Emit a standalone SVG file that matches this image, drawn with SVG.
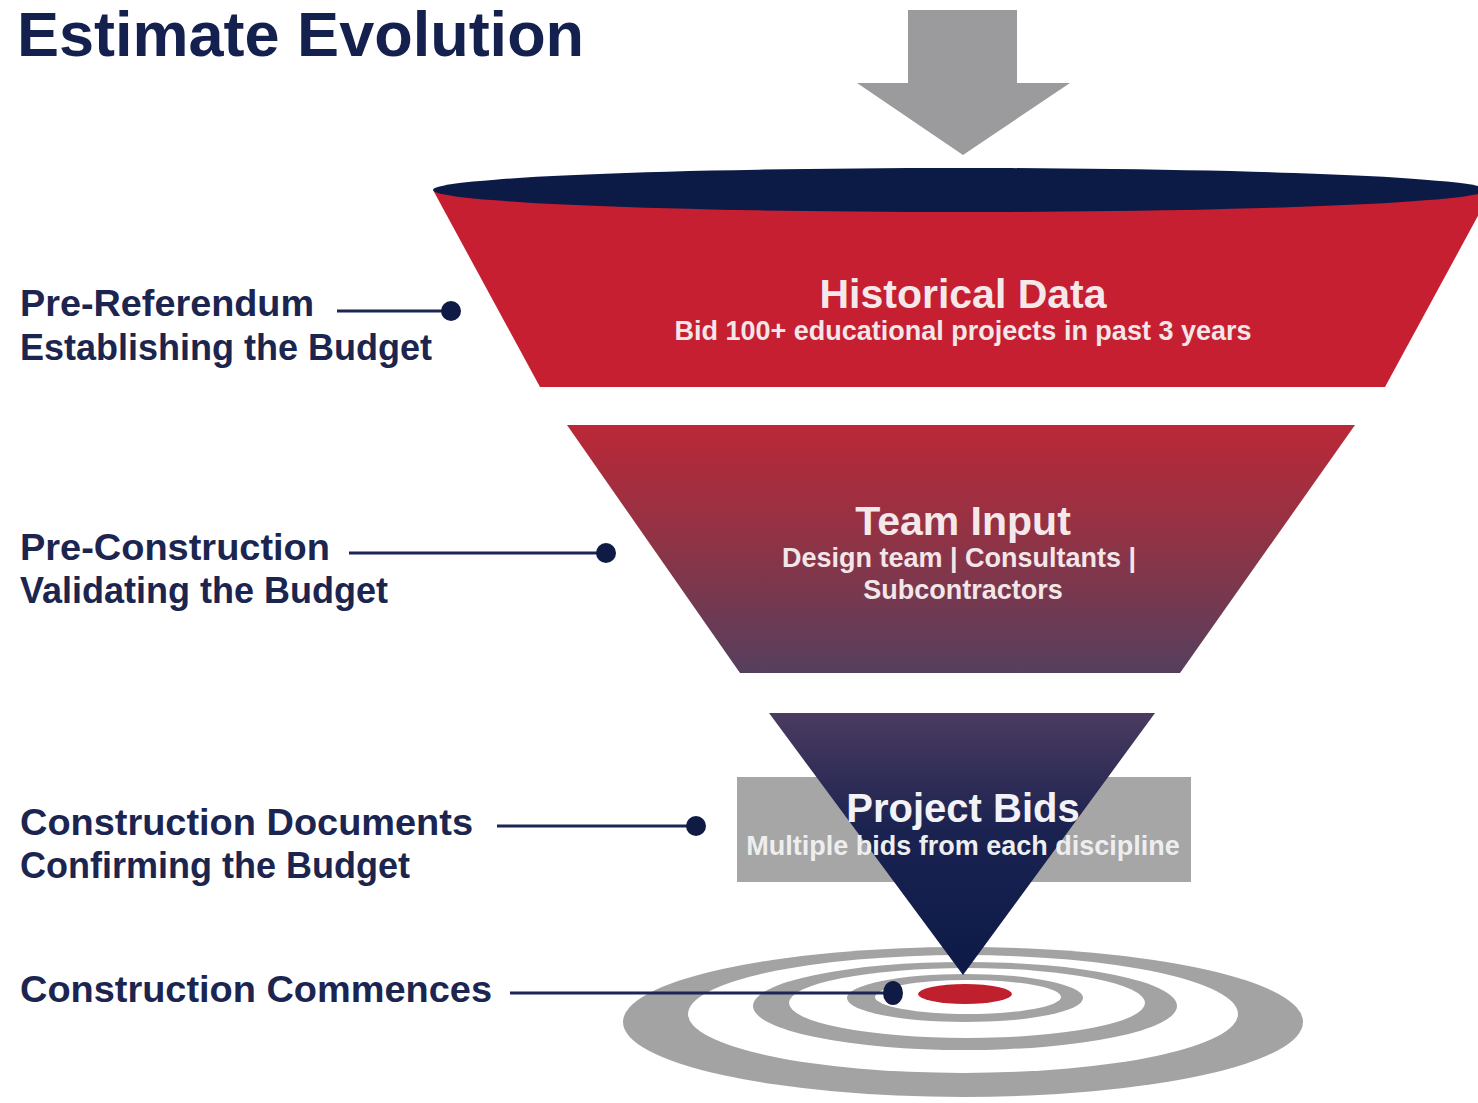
<svg xmlns="http://www.w3.org/2000/svg" width="1478" height="1103" viewBox="0 0 1478 1103">
  <defs>
    <style>
      text { font-family: "Liberation Sans", Arial, sans-serif; font-weight: bold; }
      .title { font-size: 63px; fill: #14204d; }
      .label { font-size: 36px; fill: #1b2550; }
      .head { font-size: 41px; fill: #f5e8ea; text-anchor: middle; }
      .sub { font-size: 27px; fill: #f3e6e8; text-anchor: middle; }
      .bidhead { font-size: 40px; fill: #f2f2f7; text-anchor: middle; }
      .bidsub { font-size: 27px; fill: #eeeeee; text-anchor: middle; }
      .conn { stroke: #1c2654; stroke-width: 3; fill: none; }
      .dot { fill: #0f1b45; }
      .ring { fill: #a3a3a3; }
      .gap { fill: #ffffff; }
    </style>
    <linearGradient id="teamGrad" x1="0" y1="0" x2="0" y2="1">
      <stop offset="0" stop-color="#bb2837"/>
      <stop offset="0.5" stop-color="#8c3447"/>
      <stop offset="1" stop-color="#553f5d"/>
    </linearGradient>
    <linearGradient id="bidGrad" x1="0" y1="0" x2="0" y2="1">
      <stop offset="0" stop-color="#4b3b60"/>
      <stop offset="0.45" stop-color="#1a2250"/>
      <stop offset="1" stop-color="#0c1a48"/>
    </linearGradient>
  </defs>

  <rect width="1478" height="1103" fill="#ffffff"/>

  <text class="title" x="17" y="56">Estimate Evolution</text>

  <!-- incoming arrow -->
  <g id="arrow-in">
    <polygon points="908,10 1017,10 1017,83 1070,83 963,155 857,83 908,83" fill="#9b9b9d"/>
  </g>

  <!-- target rings -->
  <g id="target">
    <ellipse class="ring" cx="963" cy="1022" rx="340" ry="75"/>
    <ellipse class="gap" cx="963" cy="1014" rx="275" ry="59"/>
    <ellipse class="ring" cx="965" cy="1006" rx="212" ry="44"/>
    <ellipse class="gap" cx="967" cy="1003" rx="178" ry="35"/>
    <ellipse class="ring" cx="965" cy="998" rx="118" ry="24"/>
    <ellipse class="gap" cx="968" cy="997" rx="93" ry="17"/>
    <ellipse cx="965" cy="994" rx="47" ry="10" fill="#c0202e"/>
  </g>

  <!-- funnel stage 1 -->
  <g id="historical-data">
    <polygon points="433,190 1492,190 1385,387 540,387" fill="#c61f31"/>
    <ellipse cx="960" cy="190" rx="527" ry="22" fill="#0c1a46"/>
    <text class="head" x="963" y="308">Historical Data</text>
    <text class="sub" x="963" y="340">Bid 100+ educational projects in past 3 years</text>
  </g>

  <!-- funnel stage 2 -->
  <g id="team-input">
    <polygon points="567,425 1355,425 1180,673 740,673" fill="url(#teamGrad)"/>
    <text class="head" x="963" y="535">Team Input</text>
    <text class="sub" x="959" y="567">Design team | Consultants |</text>
    <text class="sub" x="963" y="599">Subcontractors</text>
  </g>

  <!-- funnel stage 3 -->
  <g id="project-bids">
    <rect x="737" y="777" width="454" height="105" fill="#a6a6a6"/>
    <polygon points="769,713 1155,713 963,975" fill="url(#bidGrad)"/>
    <text class="bidhead" x="963" y="822">Project Bids</text>
    <text class="bidsub" x="963" y="855">Multiple bids from each discipline</text>
  </g>

  <!-- phase labels -->
  <g id="label-pre-referendum">
    <text class="label" x="20" y="316" textLength="294" lengthAdjust="spacingAndGlyphs">Pre-Referendum</text>
    <text class="label" x="20" y="360">Establishing the Budget</text>
  </g>
  <g id="label-pre-construction">
    <text class="label" x="20" y="560" textLength="310" lengthAdjust="spacingAndGlyphs">Pre-Construction</text>
    <text class="label" x="20" y="603">Validating the Budget</text>
  </g>
  <g id="label-construction-documents">
    <text class="label" x="20" y="835" textLength="453" lengthAdjust="spacingAndGlyphs">Construction Documents</text>
    <text class="label" x="20" y="878">Confirming the Budget</text>
  </g>
  <g id="label-construction-commences">
    <text class="label" x="20" y="1002" textLength="472" lengthAdjust="spacingAndGlyphs">Construction Commences</text>
  </g>

  <!-- connectors -->
  <g id="connectors">
    <line class="conn" x1="337" y1="311" x2="450" y2="311"/>
    <circle class="dot" cx="451" cy="311" r="10"/>
    <line class="conn" x1="349" y1="553" x2="606" y2="553"/>
    <circle class="dot" cx="606" cy="553" r="10"/>
    <line class="conn" x1="497" y1="826" x2="696" y2="826"/>
    <circle class="dot" cx="696" cy="826" r="10"/>
    <line class="conn" x1="510" y1="993" x2="893" y2="993"/>
    <ellipse class="dot" cx="893" cy="993" rx="10" ry="12"/>
  </g>
</svg>
